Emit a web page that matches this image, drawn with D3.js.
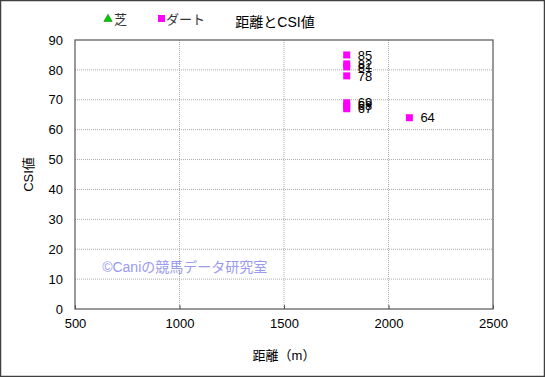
<!DOCTYPE html>
<html>
<head>
<meta charset="utf-8">
<script src="https://cdn.jsdelivr.net/npm/d3@7"></script>
<style>
  body { margin: 0; background: #fff; }
  text { font-family: "Liberation Sans", Arial, "Noto Sans CJK JP", sans-serif; }
</style>
</head>
<body>
<script>
// data
const turfDist = [];
const turfCsi = [];
const dirtDist = [1800, 1800, 1800, 1800, 1800, 1800, 1800, 2100];
const dirtCsi = [85, 82, 81, 78, 69, 68, 67, 64];
const xTicks = [500, 1000, 1500, 2000, 2500];
const yTicks = [0, 10, 20, 30, 40, 50, 60, 70, 80, 90];

const W = 545, H = 377;
const margin = {top: 40, right: 52, bottom: 68, left: 75};
const width = W - margin.left - margin.right,
  height = H - margin.top - margin.bottom;

const root = d3.select("body").append("svg")
  .attr("width", W)
  .attr("height", H);

root.append("rect")
  .attr("x", 0.5).attr("y", 0.5)
  .attr("width", W - 1).attr("height", H - 1)
  .attr("fill", "#fff")
  .attr("stroke", "#404040")
  .attr("stroke-width", 1.5);

const svg = root.append("g")
  .attr("transform", "translate(" + margin.left + "," + margin.top + ")");

const x = d3.scaleLinear().domain([500, 2500]).range([0, width]);
const y = d3.scaleLinear().domain([0, 90]).range([height, 0]);

// grid
svg.append("g")
  .selectAll("line")
  .data(xTicks.slice(1, -1))
  .join("line")
  .attr("x1", d => x(d)).attr("x2", d => x(d))
  .attr("y1", 0).attr("y2", height)
  .attr("stroke", "#aaa")
  .attr("stroke-dasharray", "1,1");

svg.append("g")
  .selectAll("line")
  .data(yTicks.slice(1, -1))
  .join("line")
  .attr("x1", 0).attr("x2", width)
  .attr("y1", d => y(d)).attr("y2", d => y(d))
  .attr("stroke", "#aaa")
  .attr("stroke-dasharray", "1,1");

svg.append("rect")
  .attr("width", width)
  .attr("height", height)
  .attr("fill", "none")
  .attr("stroke", "#555")
  .attr("stroke-width", 1.2);

// axes
const xAxis = svg.append("g")
  .attr("transform", "translate(0," + height + ")")
  .call(d3.axisBottom(x).tickValues(xTicks).tickFormat(d3.format("d")).tickSize(-4).tickPadding(10));
const yAxis = svg.append("g")
  .call(d3.axisLeft(y).tickValues(yTicks).tickSize(0).tickPadding(12));
[xAxis, yAxis].forEach(a => {
  a.select(".domain").remove();
  a.selectAll(".tick line").attr("stroke", "#555");
  a.selectAll("text").attr("font-size", 13).attr("fill", "#000")
    .style("font-family", "'Liberation Sans', Arial, sans-serif");
});

// watermark
svg.append("text")
  .attr("x", x(630))
  .attr("y", y(12.3))
  .attr("font-size", 14)
  .attr("fill", "#9a9af0")
  .text("©Caniの競馬データ研究室");

// points
const dirt = dirtDist.map((d, i) => ({dist: d, csi: dirtCsi[i]}));
svg.append("g")
  .selectAll("rect")
  .data(dirt)
  .join("rect")
  .attr("x", d => x(d.dist) - 3.5)
  .attr("y", d => y(d.csi) - 3.5)
  .attr("width", 7)
  .attr("height", 7)
  .attr("fill", "#ff00ff");

svg.append("g")
  .selectAll("text")
  .data(dirt)
  .join("text")
  .attr("x", d => x(d.dist) + 11)
  .attr("y", d => y(d.csi))
  .attr("dy", "0.36em")
  .attr("font-size", 13)
  .attr("fill", "#000")
  .text(d => d.csi);

const turf = turfDist.map((d, i) => ({dist: d, csi: turfCsi[i]}));
svg.append("g")
  .selectAll("path")
  .data(turf)
  .join("path")
  .attr("transform", d => "translate(" + x(d.dist) + "," + y(d.csi) + ")")
  .attr("d", d3.symbol(d3.symbolTriangle, 40))
  .attr("fill", "#00cc00");

// title, legend, axis titles
root.append("text")
  .attr("x", 275).attr("y", 27)
  .attr("text-anchor", "middle")
  .attr("font-size", 14)
  .text("距離とCSI値");

root.append("path")
  .attr("transform", "translate(108,19)")
  .attr("d", d3.symbol(d3.symbolTriangle, 30))
  .attr("fill", "#00cc00")
  .attr("stroke", "#006600")
  .attr("stroke-width", 0.5);
root.append("text")
  .attr("x", 114).attr("y", 24)
  .attr("font-size", 13)
  .attr("fill", "#333")
  .text("芝");

root.append("rect")
  .attr("x", 158).attr("y", 15)
  .attr("width", 7).attr("height", 7)
  .attr("fill", "#ff00ff");
root.append("text")
  .attr("x", 166).attr("y", 24)
  .attr("font-size", 13)
  .attr("fill", "#333")
  .text("ダート");

root.append("text")
  .attr("x", margin.left + width / 2).attr("y", 360)
  .attr("text-anchor", "middle")
  .attr("font-size", 13)
  .text("距離（m）");

root.append("text")
  .attr("transform", "translate(33," + (margin.top + height / 2) + ") rotate(-90)")
  .attr("text-anchor", "middle")
  .attr("font-size", 13)
  .text("CSI値");
</script>
</body>
</html>
